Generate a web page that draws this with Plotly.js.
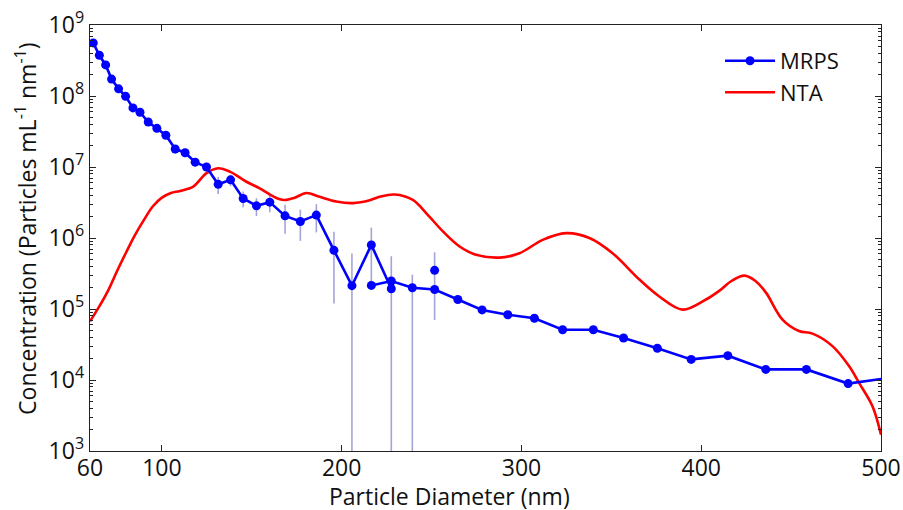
<!DOCTYPE html>
<html>
<head>
<meta charset="utf-8">
<script src="https://cdn.plot.ly/plotly-3.0.1.min.js"></script>
<style>html,body{margin:0;padding:0;background:#fff;}#chart{width:903px;height:510px;}</style>
</head>
<body>
<div id="chart"></div>
<script>
// MRPS, first cartridge (small particles); null = value below zero (not drawable on log axis)
var mrpsA_x = [61.8, 65.2, 68.7, 72.0, 75.9, 79.8, 83.9, 87.8, 92.4, 97.2, 102.2, 107.4, 112.9, 118.5, 124.8, 131.3, 138.2, 145.2, 152.6, 160.0, 168.5, 177.0, 185.9, 195.7, 205.7, 216.5, 227.6, 239.3, 251.7];
var mrpsA_y = [5.6e8, 3.75e8, 2.74e8, 1.73e8, 1.26e8, 9.9e7, 6.8e7, 5.9e7, 4.3e7, 3.5e7, 2.8e7, 1.79e7, 1.59e7, 1.17e7, 1.0e7, 5.7e6, 6.6e6, 3.6e6, 2.84e6, 3.2e6, 2.05e6, 1.71e6, 2.1e6, 6.7e5, 2.13e5, 8.0e5, 1.93e5, null, 3.5e5];
var mrpsA_err = [6e7, 4e7, 3e7, 2e7, 1.4e7, 1.1e7, 8e6, 7e6, 5e6, 4.5e6, 3.5e6, 2.5e6, 2.2e6, 1.6e6, 1.4e6, 1.55e6, 1.2e6, 0.9e6, 0.8e6, 0.9e6, 0.9e6, 0.8e6, 0.9e6, 0.55e6, 3.9e5, 6.0e5, 3.6e5, 0, 2.8e5];
// error bar of the negative MRPS value (only the upper end is on the log axis)
var negBar_x = [239.3];
var negBar_top = [3.04e5];
var negBar_down = [1e6];
// MRPS, second cartridge (large particles)
var mrpsB_x = [216.5, 227.6, 239.3, 251.7, 264.6, 278.1, 292.4, 307.2, 322.9, 340.0, 356.8, 375.6, 394.4, 414.8, 435.9, 458.5, 481.7, 505.5];
var mrpsB_y = [2.15e5, 2.48e5, 1.99e5, 1.88e5, 1.36e5, 9.7e4, 8.3e4, 7.4e4, 5.1e4, 5.1e4, 3.9e4, 2.8e4, 1.95e4, 2.2e4, 1.41e4, 1.41e4, 8.9e3, 1.08e4];
var mrpsB_err = [2.5e4, 3e4, 2.4e4, 2.2e4, 1.6e4, 1.2e4, 1e4, 9e3, 6e3, 6e3, 4.7e3, 3.4e3, 2.3e3, 2.6e3, 1.7e3, 1.7e3, 1.1e3, 1.3e3];
// NTA
var nta_x = [60, 65, 70, 75, 80, 85, 90, 95, 100, 105, 110, 117.4, 124.8, 131.3, 137.8, 147, 154.4, 160, 165.6, 169.3, 173.9, 180.4, 187.8, 197, 206.3, 215.6, 221, 229.4, 239.6, 247, 256.3, 265.6, 274.8, 287.8, 298.9, 311.8, 324.8, 337.8, 350.7, 365.6, 376.7, 389.6, 402.6, 410, 417, 424, 430, 436, 445.2, 454.4, 461.9, 473, 482.2, 487.8, 495.2, 500];
var nta_y = [6.7e4, 1.07e5, 1.8e5, 3.4e5, 6.2e5, 1.1e6, 1.8e6, 2.8e6, 3.7e6, 4.3e6, 4.6e6, 5.3e6, 8.2e6, 9.6e6, 8.6e6, 6.2e6, 5.0e6, 4.1e6, 3.5e6, 3.44e6, 3.7e6, 4.3e6, 3.8e6, 3.26e6, 3.1e6, 3.4e6, 3.8e6, 4.1e6, 3.44e6, 2.24e6, 1.24e6, 7.6e5, 5.8e5, 5.3e5, 6.1e5, 9.4e5, 1.17e6, 1.0e6, 6.1e5, 2.6e5, 1.5e5, 9.8e4, 1.36e5, 1.8e5, 2.5e5, 2.95e5, 2.5e5, 1.7e5, 7.1e4, 4.9e4, 4.5e4, 3.0e4, 1.57e4, 9.1e3, 4.3e3, 1.7e3];

var xTicks = [60, 100, 200, 300, 400, 500];
var yTickVals = [1e3, 1e4, 1e5, 1e6, 1e7, 1e8, 1e9];
var yTickText = ['10<sup>3</sup>', '10<sup>4</sup>', '10<sup>5</sup>', '10<sup>6</sup>', '10<sup>7</sup>', '10<sup>8</sup>', '10<sup>9</sup>'];
var xTitle = 'Particle Diameter (nm)';
var yTitle = 'Concentration (Particles mL<sup>-1</sup> nm<sup>-1</sup>)';

var errColor = 'rgba(90,90,190,0.55)';
var errStyle = function (arr) {
  return {type: 'data', array: arr, visible: true, color: errColor, thickness: 1.6, width: 0};
};

var traces = [
  {x: nta_x, y: nta_y, name: 'NTA', mode: 'lines', line: {color: '#ff0000', width: 2.6, shape: 'spline', smoothing: 1}, legendrank: 2},
  {x: negBar_x, y: negBar_top, mode: 'markers', marker: {size: 1, opacity: 0}, showlegend: false,
   error_y: {type: 'data', symmetric: false, array: [0], arrayminus: negBar_down, visible: true, color: errColor, thickness: 1.6, width: 0}},
  {x: mrpsA_x, y: mrpsA_y, name: 'MRPS', mode: 'lines+markers', line: {color: '#0000ff', width: 2.6}, marker: {color: '#0000ff', size: 9}, error_y: errStyle(mrpsA_err), legendrank: 1},
  {x: mrpsB_x, y: mrpsB_y, name: 'MRPS', mode: 'lines+markers', showlegend: false, line: {color: '#0000ff', width: 2.6}, marker: {color: '#0000ff', size: 9}, error_y: errStyle(mrpsB_err)}
];

var axisCommon = {
  showline: true, linecolor: '#222', linewidth: 1.3, mirror: 'allticks',
  ticks: 'inside', ticklen: 6, tickwidth: 1, tickcolor: '#222',
  showgrid: false, zeroline: false,
  tickfont: {family: 'Open Sans', size: 23, color: '#111'}
};

var layout = {
  width: 903, height: 510,
  margin: {l: 90, r: 22, t: 25, b: 59},
  paper_bgcolor: '#fff', plot_bgcolor: '#fff',
  font: {family: 'Open Sans', color: '#111'},
  showlegend: true,
  legend: {x: 0.7965, y: 0.965, xanchor: 'left', yanchor: 'top', itemwidth: 50, bgcolor: 'rgba(0,0,0,0)', borderwidth: 0, font: {family: 'Open Sans', size: 22, color: '#111'}, traceorder: 'normal', tracegroupgap: 0},
  xaxis: Object.assign({}, axisCommon, {
    type: 'linear', range: [60, 500], tickmode: 'array', tickvals: xTicks, ticktext: xTicks.map(String),
    ticklabelstandoff: -4
  }),
  yaxis: Object.assign({}, axisCommon, {
    type: 'log', range: [3, 9], tickmode: 'array', tickvals: yTickVals, ticktext: yTickText,
    minor: {ticks: 'inside', ticklen: 3, tickcolor: '#222', dtick: 'D1', showgrid: false}
  }),
  annotations: [
    {text: xTitle, xref: 'paper', yref: 'paper', x: 0.454, y: -0.1056, xanchor: 'center', yanchor: 'middle', showarrow: false, font: {family: 'Open Sans', size: 23, color: '#111'}},
    {text: yTitle, xref: 'paper', yref: 'paper', x: -0.081, y: 0.5235, xanchor: 'center', yanchor: 'middle', textangle: -90, showarrow: false, font: {family: 'Open Sans', size: 23, color: '#111'}}
  ]
};

Plotly.newPlot('chart', traces, layout, {staticPlot: true, displayModeBar: false});
</script>
</body>
</html>
